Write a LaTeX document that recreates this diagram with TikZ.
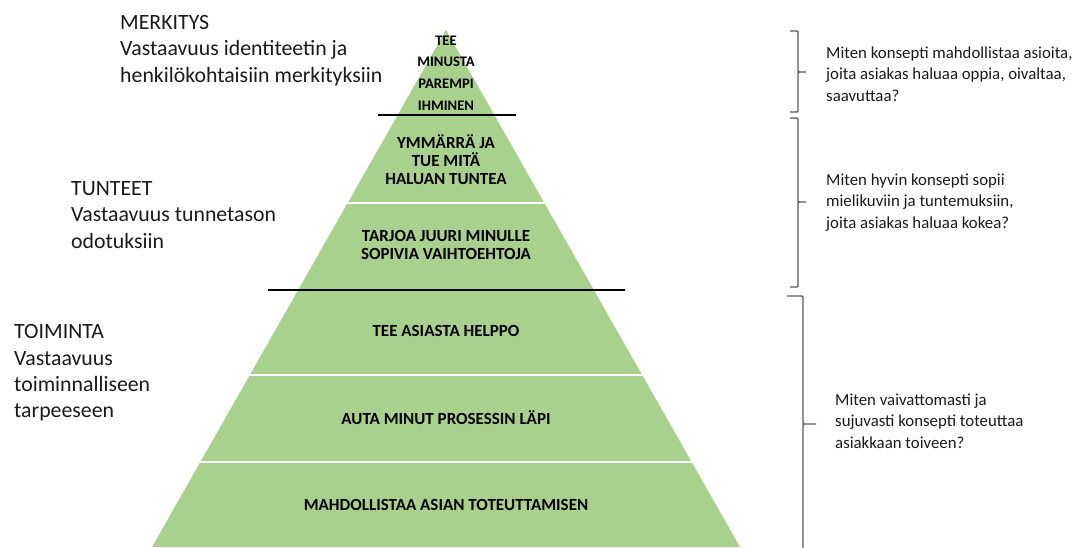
\documentclass[tikz,border=0pt]{standalone}
\usepackage{fontspec}
\setmainfont{Carlito}
\definecolor{pyrgreen}{HTML}{A9D18E}
\definecolor{bracegray}{HTML}{595959}
\definecolor{labeltext}{HTML}{1A1A1A}
% right-facing curly brace: name, end x, line x, tip x, top y, middle y, bottom y
\newcommand\sidebrace[7]{%
  \coordinate (#1-top) at (#2,#5);
  \coordinate (#1-tip) at (#4,#6);
  \coordinate (#1-bot) at (#2,#7);
  \draw[bracestroke] (#1-top) -- (#3-2,#5) .. controls (#3,#5) .. (#3,#5+2)
    -- (#3,#6-2) .. controls (#3,#6) .. (#3+2,#6) -- (#1-tip)
    -- (#3+2,#6) .. controls (#3,#6) .. (#3,#6+2)
    -- (#3,#7-2) .. controls (#3,#7) .. (#3-2,#7) -- (#1-bot);}
\begin{document}
\begin{tikzpicture}[x=1pt,y=-1pt,
  layertext/.style={font=\bfseries\fontsize{17}{18.2}\selectfont, align=center, inner sep=0pt, text=black},
  toptext/.style={font=\bfseries\fontsize{14.6}{21.7}\selectfont, align=center, inner sep=0pt, text=black},
  sidelabel/.style={font=\fontsize{21.8}{26.2}\selectfont, align=left, anchor=base west, inner sep=0pt, text=labeltext},
  question/.style={font=\fontsize{16.8}{21.2}\selectfont, align=left, anchor=base west, inner sep=0pt, text=labeltext},
  bracestroke/.style={draw=bracegray, line width=1.3pt},
  levelrule/.style={draw=black, line width=2.4pt},
  seprule/.style={draw=white, line width=1.4pt}]
\useasboundingbox (0,0) rectangle (1084,547);
\clip (0,0) rectangle (1084,547);

% pyramid body with thin white separators
\begin{scope}
  \clip (446,30) -- (152,547) -- (740,547) -- cycle;
  \fill[pyrgreen] (0,0) rectangle (1084,547);
  \draw[seprule] (0,203) -- (1084,203);
  \draw[seprule] (0,375) -- (1084,375);
  \draw[seprule] (0,462) -- (1084,462);
\end{scope}

% black rules between the three levels
\coordinate (r1a) at (378,115); \coordinate (r1b) at (516,115);
\coordinate (r2a) at (268,290); \coordinate (r2b) at (625,290);
\draw[levelrule] (r1a) -- (r1b);
\draw[levelrule] (r2a) -- (r2b);

% texts inside the pyramid
\node[toptext] (p1) at (446,73) {TEE\\MINUSTA\\PAREMPI\\IHMINEN};
\node[layertext] (p2) at (446,159.5) {YMMÄRRÄ JA\\TUE MITÄ\\HALUAN TUNTEA};
\node[layertext] (p3) at (446,245) {TARJOA JUURI MINULLE\\SOPIVIA VAIHTOEHTOJA};
\node[layertext] (p4) at (446,331) {TEE ASIASTA HELPPO};
\node[layertext] (p5) at (446,418) {AUTA MINUT PROSESSIN LÄPI};
\node[layertext] (p6) at (446,505) {MAHDOLLISTAA ASIAN TOTEUTTAMISEN};

% level descriptions on the left (anchored at the baseline of the last line)
\node[sidelabel] (merkitys) at (120,82) {MERKITYS\\Vastaavuus identiteetin ja\\henkilökohtaisiin merkityksiin};
\node[sidelabel] (tunteet) at (71,248) {TUNTEET\\Vastaavuus tunnetason\\odotuksiin};
\node[sidelabel] (toiminta) at (14,417.5) {TOIMINTA\\Vastaavuus\\toiminnalliseen\\tarpeeseen};

% braces and questions on the right
\sidebrace{b1}{790}{798}{806}{31}{72}{112}
\sidebrace{b2}{790}{798}{806}{118}{202}{287}
\sidebrace{b3}{787}{803}{816}{296}{424}{552}

\node[question] (q1) at (826,101) {Miten konsepti mahdollistaa asioita,\\joita asiakas haluaa oppia, oivaltaa,\\saavuttaa?};
\node[question] (q2) at (826,228) {Miten hyvin konsepti sopii\\mielikuviin ja tuntemuksiin,\\joita asiakas haluaa kokea?};
\node[question] (q3) at (835,448) {Miten vaivattomasti ja\\sujuvasti konsepti toteuttaa\\asiakkaan toiveen?};
\end{tikzpicture}
\end{document}
